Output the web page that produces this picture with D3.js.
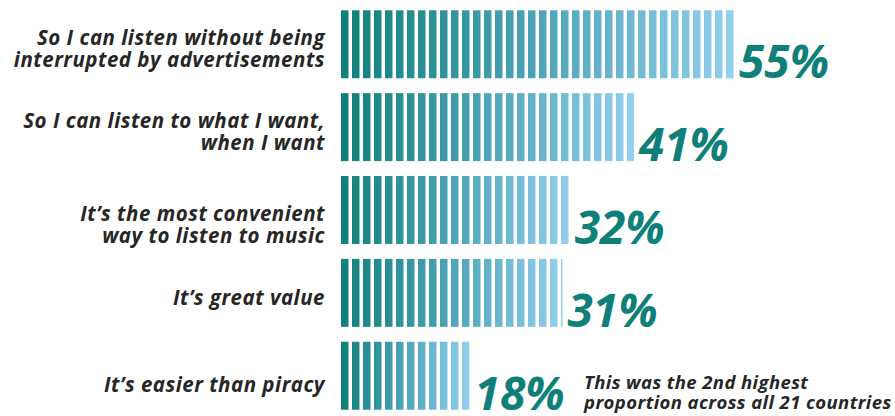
<!DOCTYPE html>
<html>
<head>
<meta charset="utf-8">
<script src="https://cdn.jsdelivr.net/npm/d3@7"></script>
<style>
  body { margin: 0; background: #fff; }
  svg { display: block; }
  text { font-family: "Open Sans", "Noto Sans", sans-serif; font-style: italic; font-weight: bold; }
</style>
</head>
<body>
<svg id="chart" width="895" height="416"></svg>
<script>
// reasons for paying for a streaming service
var reasons = [
    ["So I can listen without being", "interrupted by advertisements"],
    ["So I can listen to what I want,", "when I want"],
    ["It\u2019s the most convenient", "way to listen to music"],
    ["It\u2019s great value"],
    ["It\u2019s easier than piracy"]
];
var shares = [55, 41, 32, 31, 18];
var note = ["This was the 2nd highest", "proportion across all 21 countries"];

var teal = "#0f7f7a";
var lightBlue = "#93d0ee";
var textColor = "#262626";

var svg = d3.select("#chart");

var x = d3.scaleLinear().domain([0, 100]).range([341, 341 + 714.5]);
var y = d3.scaleBand()
    .domain(d3.range(shares.length))
    .range([2, 418])
    .paddingInner(0.18)
    .paddingOuter(0.1);

var defs = svg.append("defs");

// gradient runs across each bar, teal -> light blue
var grad = defs.append("linearGradient")
    .attr("id", "barGrad")
    .attr("x1", 0).attr("x2", 1).attr("y1", 0).attr("y2", 0);
grad.append("stop").attr("offset", 0).attr("stop-color", teal);
grad.append("stop").attr("offset", 0.5).attr("stop-color", "#4ea4b8");
grad.append("stop").attr("offset", 1).attr("stop-color", lightBlue);

// vertical stripes
var stripes = defs.append("pattern")
    .attr("id", "stripes")
    .attr("patternUnits", "userSpaceOnUse")
    .attr("x", x(0)).attr("y", 0)
    .attr("width", 11).attr("height", 10);
stripes.append("rect")
    .attr("width", 7.5).attr("height", 10)
    .attr("fill", "#fff");

defs.append("mask")
    .attr("id", "stripeMask")
    .attr("maskUnits", "userSpaceOnUse")
    .attr("x", 0).attr("y", 0).attr("width", 895).attr("height", 416)
    .append("rect")
    .attr("width", 895).attr("height", 416)
    .attr("fill", "url(#stripes)");

svg.append("g")
    .attr("mask", "url(#stripeMask)")
    .selectAll("rect")
    .data(shares)
    .enter()
    .append("rect")
    .attr("x", x(0))
    .attr("y", (d, i) => y(i))
    .attr("width", d => x(d) - x(0))
    .attr("height", y.bandwidth())
    .attr("fill", "url(#barGrad)");

// value labels
svg.append("g")
    .selectAll("text")
    .data(shares)
    .enter()
    .append("text")
    .attr("x", d => x(d) + 5)
    .attr("y", (d, i) => y(i) + y.bandwidth())
    .attr("font-size", 46)
    .attr("fill", teal)
    .text(d => d + "%");

// category labels, right aligned
var labelNudge = [0, 0, 10, 0, 4];
var lineGap = 22;
var labels = svg.append("g")
    .selectAll("text")
    .data(reasons)
    .enter()
    .append("text")
    .attr("text-anchor", "end")
    .attr("font-size", 20.5)
    .attr("letter-spacing", 0.5)
    .attr("fill", textColor)
    .attr("y", (d, i) => y(i) + y.bandwidth() / 2 + 12 + labelNudge[i] - (d.length - 1) * lineGap / 2);

labels.selectAll("tspan")
    .data(d => d)
    .enter()
    .append("tspan")
    .attr("x", 325)
    .attr("dy", (d, j) => j === 0 ? 0 : lineGap)
    .text(d => d);

// footnote next to last bar
var last = shares.length - 1;
svg.append("text")
    .attr("font-size", 18.5)
    .attr("letter-spacing", 0.4)
    .attr("fill", textColor)
    .attr("y", y(last) + y.bandwidth() - 21)
    .selectAll("tspan")
    .data(note)
    .enter()
    .append("tspan")
    .attr("x", 584)
    .attr("dy", (d, j) => j === 0 ? 0 : 20)
    .text(d => d);
</script>
</body>
</html>
